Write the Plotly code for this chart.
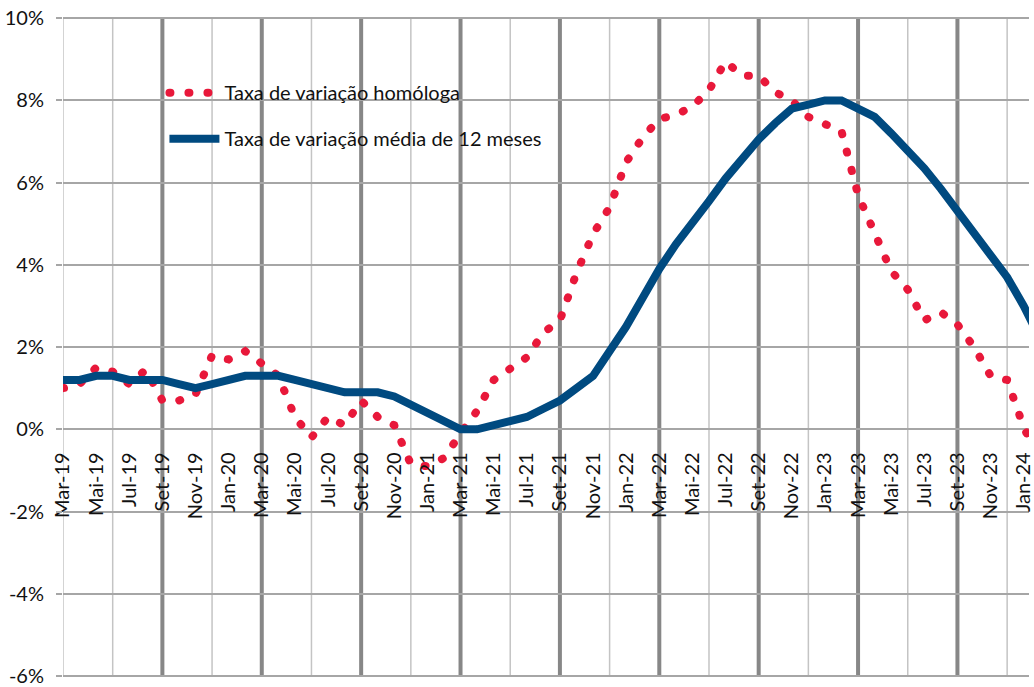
import plotly.graph_objects as go

# Categories (monthly, Mar-19 .. Fev-24)
months = [
    "Mar-19", "Abr-19", "Mai-19", "Jun-19", "Jul-19", "Ago-19", "Set-19", "Out-19", "Nov-19", "Dez-19",
    "Jan-20", "Fev-20", "Mar-20", "Abr-20", "Mai-20", "Jun-20", "Jul-20", "Ago-20", "Set-20", "Out-20", "Nov-20", "Dez-20",
    "Jan-21", "Fev-21", "Mar-21", "Abr-21", "Mai-21", "Jun-21", "Jul-21", "Ago-21", "Set-21", "Out-21", "Nov-21", "Dez-21",
    "Jan-22", "Fev-22", "Mar-22", "Abr-22", "Mai-22", "Jun-22", "Jul-22", "Ago-22", "Set-22", "Out-22", "Nov-22", "Dez-22",
    "Jan-23", "Fev-23", "Mar-23", "Abr-23", "Mai-23", "Jun-23", "Jul-23", "Ago-23", "Set-23", "Out-23", "Nov-23", "Dez-23",
    "Jan-24", "Fev-24",
]

# Taxa de variação homóloga (%)
homologa = [
    1.0, 1.1, 1.5, 1.4, 1.1, 1.45, 0.7, 0.7, 0.85, 1.8,
    1.7, 1.9, 1.6, 1.3, 0.3, -0.2, 0.3, 0.1, 0.7, 0.3, 0.1, -0.85,
    -0.9, -0.7, -0.1, 0.45, 1.2, 1.5, 1.75, 2.35, 2.65, 3.8, 4.75, 5.4,
    6.5, 7.1, 7.55, 7.65, 7.85, 8.25, 8.95, 8.6, 8.6, 8.2, 8.0, 7.6,
    7.4, 7.25, 5.7, 4.75, 3.85, 3.4, 2.65, 2.85, 2.55, 2.0, 1.3, 1.2,
    0.05, -0.8,
]

# Taxa de variação média de 12 meses (%)
media12 = [
    1.2, 1.2, 1.3, 1.3, 1.2, 1.2, 1.2, 1.1, 1.0, 1.1,
    1.2, 1.3, 1.3, 1.3, 1.2, 1.1, 1.0, 0.9, 0.9, 0.9, 0.8, 0.6,
    0.4, 0.2, 0.0, 0.0, 0.1, 0.2, 0.3, 0.5, 0.7, 1.0, 1.3, 1.9,
    2.5, 3.2, 3.9, 4.5, 5.0, 5.55, 6.1, 6.6, 7.05, 7.45, 7.8, 7.9,
    8.0, 8.0, 7.8, 7.6, 7.2, 6.8, 6.35, 5.85, 5.3, 4.8, 4.2, 3.7,
    3.0, 2.2,
]

y_ticks = [-6, -4, -2, 0, 2, 4, 6, 8, 10]
y_labels = [f"{v}%" for v in y_ticks]
x_ticks = months[::2]

RED = "#E8183A"
BLUE = "#004A80"
FONT = "Lato"

Y_MIN, Y_MAX = -6.05, 10.03

fig = go.Figure()
fig.add_trace(go.Scatter(
    x=months, y=homologa, mode="lines", name="Taxa de variação homóloga",
    line=dict(color=RED, width=8, dash="1px,18px"), legendgroup="a",
))
fig.add_trace(go.Scatter(
    x=months, y=media12, mode="lines", name="Taxa de variação média de 12 meses",
    line=dict(color=BLUE, width=8), legendgroup="b",
))

shapes = []
for i in range(0, len(months) + 1, 3):
    thick = (i % 6 == 0) and i > 0
    shapes.append(dict(
        type="line", xref="x", yref="y", x0=i, x1=i, y0=-6, y1=10, layer="below",
        line=dict(color="#878787" if thick else "#c4c4c4", width=4 if thick else 1.5),
    ))

fig.update_layout(
    width=1034, height=687,
    margin=dict(l=63, r=0, t=17, b=7),
    paper_bgcolor="white", plot_bgcolor="white",
    font=dict(family=FONT, size=20, color="#111111"),
    shapes=shapes,
    legend=dict(
        x=0.105, y=0.915, xanchor="left", yanchor="top",
        bgcolor="rgba(0,0,0,0)", font=dict(size=20, family=FONT),
        traceorder="grouped", tracegroupgap=17, itemwidth=50,
    ),
    xaxis=dict(
        type="category", range=[0, 58.32],
        tickmode="array", tickvals=x_ticks, ticktext=x_ticks, tickangle=-90,
        anchor="free", position=(0 - Y_MIN) / (Y_MAX - Y_MIN),
        showgrid=False, zeroline=False, showline=False,
        ticks="outside", ticklen=14, tickcolor="rgba(0,0,0,0)", tickfont=dict(size=20),
    ),
    yaxis=dict(
        range=[Y_MIN, Y_MAX], tickmode="array", tickvals=y_ticks, ticktext=y_labels,
        showgrid=True, gridcolor="#a6a6a6", gridwidth=2, zeroline=False, showline=False,
        ticks="outside", ticklen=6, tickcolor="#a6a6a6", tickwidth=2, ticklabelstandoff=8,
        ticklabeloverflow="allow", tickfont=dict(size=20),
    ),
    showlegend=True,
)

post_script = """
var s = document.createElement('style');
s.innerHTML = 'body{margin:0;} path[style*="rgb(232, 24, 58)"]{stroke-linecap:round !important;}';
document.head.appendChild(s);
"""

fig.write_html("out.html", post_script=post_script, config={"displayModeBar": False})
